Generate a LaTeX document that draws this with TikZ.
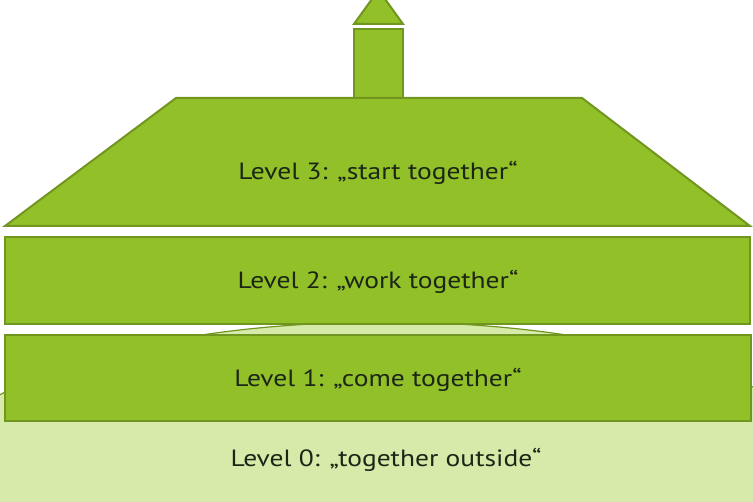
\documentclass[tikz,border=0pt]{standalone}
\usepackage{fontspec}
\setmainfont{PT Sans}
\definecolor{mainG}{RGB}{146,192,40}
\definecolor{edgeG}{RGB}{112,150,32}
\definecolor{lightG}{RGB}{214,234,170}
\definecolor{textC}{RGB}{28,38,22}
\newcommand{\lvltext}[1]{\scalebox{1.17}[1]{#1}}
\begin{document}
\begin{tikzpicture}[x=1pt,y=-1pt,
  block/.style={fill=mainG,draw=edgeG,line width=2pt,line join=miter},
  label/.style={font=\fontsize{23.5}{28}\selectfont,text=textC,inner sep=0pt}]
\useasboundingbox (0,0) rectangle (753,502);
\clip (0,0) rectangle (753,502);
% hill
\fill[lightG] (0,470) rectangle (753,502);
\fill[lightG] (-66,474) arc[start angle=180,end angle=360,x radius=450,y radius=152] -- cycle;
\draw[edgeG,line width=1.2pt] (-66,474) arc[start angle=180,end angle=360,x radius=450,y radius=152];
% tower roof and tower
\draw[block] (354,24) -- (378.5,-10) -- (403,24) -- cycle;
\draw[block] (354,29) rectangle (403,98);
% roof
\draw[block] (176,98) -- (582,98) -- (750,226) -- (5,226) -- cycle;
% level boxes
\draw[block] (5,237) rectangle (750,324);
\draw[block] (5,335) rectangle (751,421);
% texts
\node[label] (l3) at (378,173) {\lvltext{Level 3: „start together“}};
\node[label] (l2) at (378,282) {\lvltext{Level 2: „work together“}};
\node[label] (l1) at (378,380) {\lvltext{Level 1: „come together“}};
\node[label] (l0) at (386,460) {\lvltext{Level 0: „together outside“}};
\end{tikzpicture}
\end{document}
